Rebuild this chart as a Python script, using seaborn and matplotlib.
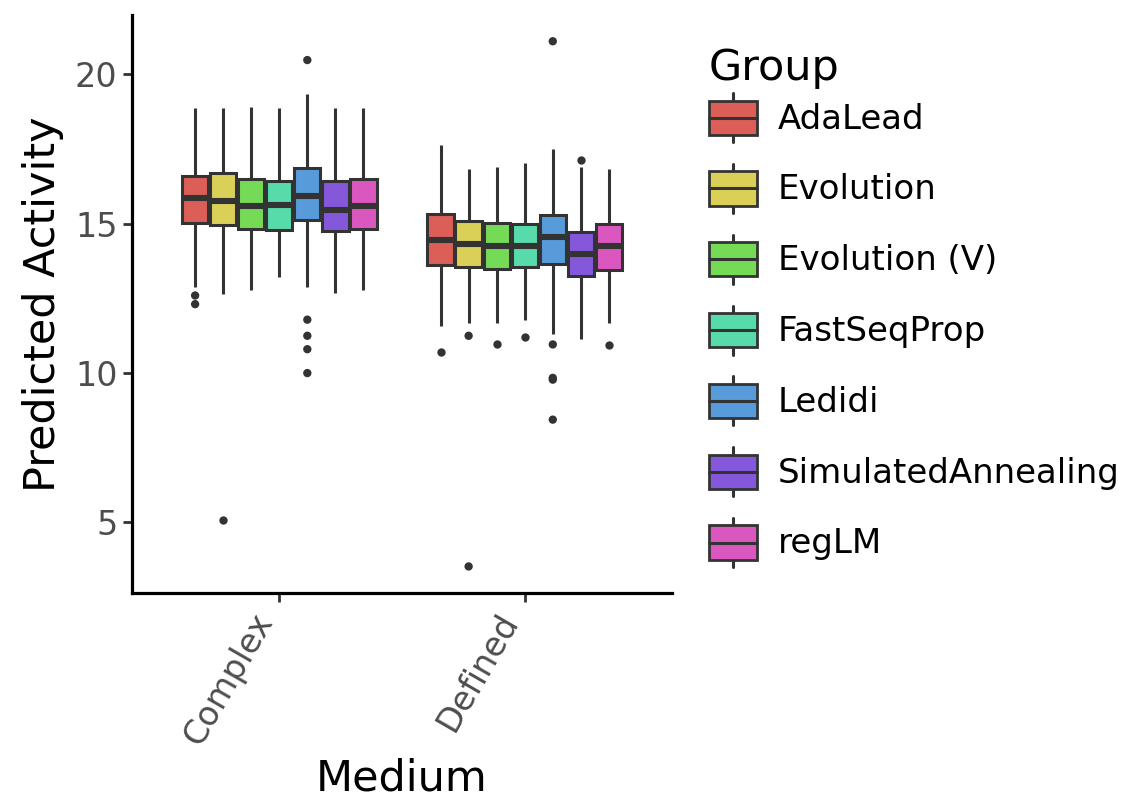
import pandas as pd
import numpy as np
import matplotlib
matplotlib.use("Agg")
import matplotlib.pyplot as plt
import seaborn as sns
from matplotlib.legend_handler import HandlerBase
from matplotlib.patches import Rectangle, Patch
from matplotlib.lines import Line2D

# ------------------------
# Data
# ------------------------
groups = ["AdaLead", "Evolution", "Evolution (V)", "FastSeqProp",
          "Ledidi", "SimulatedAnnealing", "regLM"]
mediums = ["Complex", "Defined"]

# five-number summaries per group (same order as groups)
complex_low = [12.87, 12.65, 12.78, 13.22, 12.89, 12.69, 12.78]
complex_q1 = [15.02, 14.94, 14.83, 14.79, 15.11, 14.74, 14.83]
complex_median = [15.87, 15.76, 15.60, 15.62, 15.91, 15.45, 15.60]
complex_q3 = [16.61, 16.68, 16.51, 16.44, 16.85, 16.44, 16.51]
complex_high = [18.89, 18.86, 18.91, 18.88, 19.33, 18.86, 18.89]

defined_low = [11.58, 11.66, 11.66, 11.76, 11.29, 11.14, 11.68]
defined_q1 = [13.60, 13.55, 13.49, 13.54, 13.64, 13.23, 13.46]
defined_median = [14.46, 14.33, 14.24, 14.24, 14.54, 13.99, 14.24]
defined_q3 = [15.33, 15.10, 15.01, 14.97, 15.30, 14.72, 15.00]
defined_high = [17.62, 16.84, 16.88, 17.02, 17.51, 16.90, 16.84]

# outliers
outlier_medium = ["Complex", "Complex", "Complex",
                  "Complex", "Complex", "Complex", "Complex", "Complex",
                  "Defined", "Defined", "Defined", "Defined", "Defined",
                  "Defined", "Defined", "Defined", "Defined", "Defined",
                  "Defined", "Defined"]
outlier_group = ["AdaLead", "AdaLead", "Evolution",
                 "Ledidi", "Ledidi", "Ledidi", "Ledidi", "Ledidi",
                 "AdaLead", "Evolution", "Evolution", "Evolution (V)", "FastSeqProp",
                 "Ledidi", "Ledidi", "Ledidi", "Ledidi", "Ledidi",
                 "SimulatedAnnealing", "regLM"]
outlier_value = [12.59, 12.30, 5.07,
                 20.48, 11.78, 11.24, 10.79, 9.99,
                 10.68, 11.24, 3.51, 10.98, 11.21,
                 21.11, 10.95, 9.83, 9.77, 8.43,
                 17.13, 10.92]

# ------------------------
# Build long table for seaborn
# ------------------------
rows = []
stats = {
    "Complex": [complex_low, complex_q1, complex_median, complex_q3, complex_high],
    "Defined": [defined_low, defined_q1, defined_median, defined_q3, defined_high],
}
for medium in mediums:
    for i, g in enumerate(groups):
        for s in stats[medium]:
            rows.append({"Medium": medium, "Group": g, "Activity": s[i]})
df = pd.DataFrame(rows)

outliers = pd.DataFrame({"Medium": outlier_medium, "Group": outlier_group,
                         "Activity": outlier_value})

# ------------------------
# Plot
# ------------------------
sns.set_style("ticks")
plt.rcParams['font.family'] = ['DejaVu Sans']
plt.rcParams['text.color'] = 'black'
plt.rcParams['axes.labelcolor'] = 'black'

palette = sns.color_palette("hls", len(groups))
edge = "#333333"

fig = plt.figure(figsize=(11.32, 8.10), dpi=100)
ax = fig.add_axes([132 / 1132, 217 / 810, 540 / 1132, 578 / 810])

sns.boxplot(data=df, x="Medium", y="Activity", hue="Group",
            order=mediums, hue_order=groups, palette=palette,
            saturation=1, width=0.8, gap=0.0625, whis=(0, 100),
            showfliers=False, showcaps=False, linecolor=edge, linewidth=2.2,
            medianprops={"linewidth": 4.4, "color": edge},
            legend=False, ax=ax)

sns.stripplot(data=outliers, x="Medium", y="Activity", hue="Group",
              order=mediums, hue_order=groups,
              palette={g: edge for g in groups},
              dodge=True, jitter=False, size=6, linewidth=0,
              legend=False, ax=ax)

ax.set_xlim(-0.6, 1.6)
ax.set_ylim(2.62, 21.99)
ax.set_yticks([5, 10, 15, 20])

sns.despine(ax=ax)
for side in ["left", "bottom"]:
    ax.spines[side].set_linewidth(2.3)
    ax.spines[side].set_color("black")
ax.tick_params(axis="both", length=6.5, width=2.0, color=edge,
               labelsize=24, labelcolor="#4D4D4D", pad=4)
plt.setp(ax.get_xticklabels(), rotation=60, ha="right", va="top")

ax.set_xlabel("Medium", fontsize=31, labelpad=5)
ax.set_ylabel("Predicted Activity", fontsize=31, labelpad=8)


class BoxKey(HandlerBase):
    def create_artists(self, legend, orig_handle, xdescent, ydescent,
                       width, height, fontsize, trans):
        x0, y0 = -xdescent, -ydescent
        cx = x0 + width / 2
        whisker = Line2D([cx, cx], [y0, y0 + height], color=edge, lw=2.2,
                         transform=trans)
        box = Rectangle((x0, y0 + 0.15 * height), width, 0.7 * height,
                        facecolor=orig_handle.get_facecolor(), edgecolor=edge,
                        lw=2.0, transform=trans)
        median = Line2D([x0, x0 + width], [y0 + height / 2] * 2, color=edge,
                        lw=2.2, transform=trans)
        return [whisker, box, median]


handles = [Patch(facecolor=c) for c in palette]
leg = fig.legend(handles, groups, title="Group", loc="upper left",
                 bbox_to_anchor=(709 / 1132, 1 - 47 / 810),
                 frameon=False, fontsize=24.5, title_fontsize=31,
                 handlelength=1.41, handleheight=1.84, labelspacing=0.64,
                 handletextpad=0.62, borderpad=0, borderaxespad=0,
                 alignment="left", handler_map={Patch: BoxKey()})
# tighter gap between the title and the first key
leg._legend_box.sep = 3

plt.savefig("out.png", dpi=100)
